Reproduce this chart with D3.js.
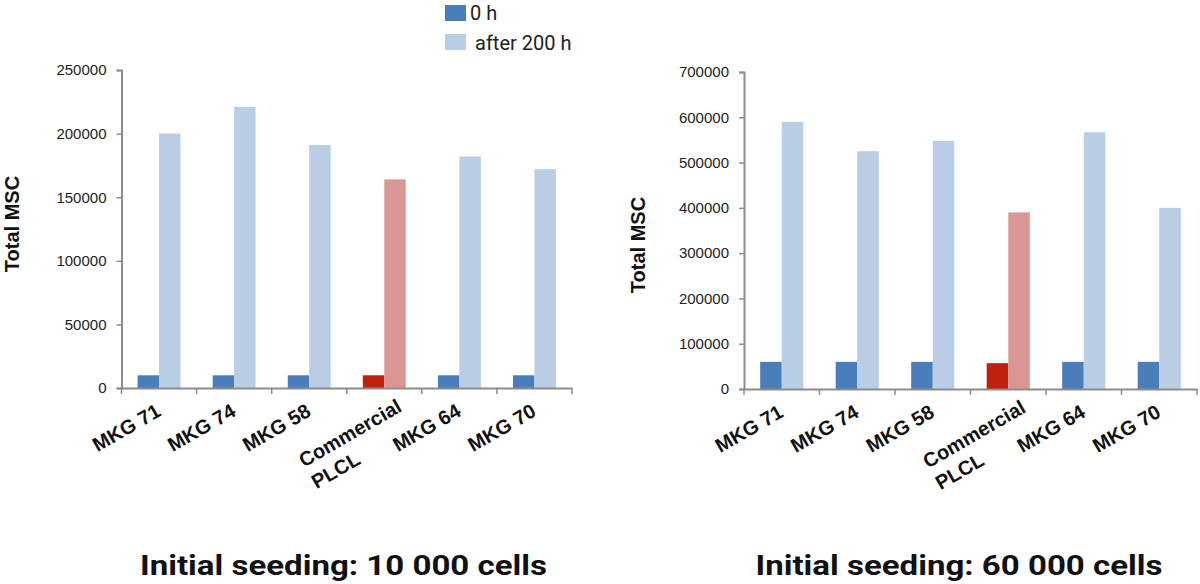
<!DOCTYPE html>
<html><head><meta charset="utf-8">
<script src="https://cdn.jsdelivr.net/npm/d3@7"></script>
<style>
html,body{margin:0;padding:0;background:#fff;}
svg{display:block;font-family:"Liberation Sans",Arial,sans-serif;}
</style></head>
<body>
<svg id="chart" width="1200" height="584"></svg>
<script>
const categories = ["MKG 71", "MKG 74", "MKG 58", "Commercial\nPLCL", "MKG 64", "MKG 70"];
const seriesNames = ["0 h", "after 200 h"];
const left0h = [10000, 10000, 10000, 10000, 10000, 10000];
const left200h = [200000, 221000, 191000, 164000, 182000, 172000];
const right0h = [60000, 60000, 60000, 57000, 60000, 60000];
const right200h = [590000, 525000, 548000, 390000, 567000, 400000];
const leftTicks = [0, 50000, 100000, 150000, 200000, 250000];
const rightTicks = [0, 100000, 200000, 300000, 400000, 500000, 600000, 700000];
const titles = ["Initial seeding: 10 000 cells", "Initial seeding: 60 000 cells"];
const yTitle = "Total MSC";
const highlightCategory = "Commercial\nPLCL";

const colors = {"0 h": "#4a7ebb", "after 200 h": "#b9cde5"};
const hiColors = {"0 h": "#c0200e", "after 200 h": "#d99694"};
const axisColor = "#8c8c8c";

const svg = d3.select("#chart");

function panel(cfg) {
  const g = svg.append("g");
  const x = d3.scaleBand().domain(categories).range([cfg.x0, cfg.x1]).padding(0);
  const bw = x.bandwidth();
  const b = bw / 3.5;
  const x1 = d3.scaleBand().domain(seriesNames).range([0.75 * b, bw - 0.75 * b]).padding(0);
  const y = d3.scaleLinear().domain([0, cfg.max]).range([cfg.y0, cfg.ytop]);

  const data = categories.map((c, i) => ({cat: c, vals: [cfg.v0[i], cfg.v1[i]]}));
  const groups = g.selectAll("g.grp").data(data).join("g").attr("transform", d => `translate(${x(d.cat)},0)`);
  groups.selectAll("rect").data(d => seriesNames.map((s, j) => ({s, v: d.vals[j], cat: d.cat})))
    .join("rect")
    .attr("x", d => x1(d.s))
    .attr("width", x1.bandwidth())
    .attr("y", d => y(d.v))
    .attr("height", d => y(0) - y(d.v))
    .attr("fill", d => d.cat === highlightCategory ? hiColors[d.s] : colors[d.s]);

  // y axis
  const ya = d3.axisLeft(y).tickValues(cfg.ticks).tickSize(5).tickPadding(10).tickFormat(d3.format("d"));
  const yg = g.append("g").attr("transform", `translate(${cfg.x0},0)`).call(ya);
  yg.select(".domain").attr("stroke", axisColor).attr("stroke-width", 2);
  yg.selectAll(".tick line").attr("stroke", axisColor).attr("stroke-width", 1.5);
  yg.selectAll(".tick text").attr("font-size", 15).attr("fill", "#222").attr("font-family", "Liberation Sans, Arial, sans-serif");

  // x axis
  const xa = d3.axisBottom(x).tickSize(0).tickFormat("");
  const xg = g.append("g").attr("transform", `translate(0,${cfg.y0})`).call(xa);
  xg.select(".domain").attr("stroke", axisColor).attr("stroke-width", 2);
  xg.selectAll(".tick").remove();
  const bounds = categories.map(c => x(c)).concat([cfg.x1]);
  xg.selectAll("line.bt").data(bounds).join("line").attr("class", "bt")
    .attr("x1", d => d).attr("x2", d => d).attr("y1", 0).attr("y2", 6)
    .attr("stroke", axisColor).attr("stroke-width", 1.5);

  // category labels
  categories.forEach(c => {
    const lines = c.split("\n");
    const cx = x(c) + bw / 2;
    const lg = g.append("g").attr("transform", `translate(${cx + 3},${cfg.y0 + 27}) rotate(-30)`);
    if (lines.length === 1) {
      lg.append("text").attr("text-anchor", "end").attr("font-size", 20).attr("font-weight", "bold").attr("fill", "#111").text(lines[0]);
    } else {
      const t1 = lg.append("text").attr("font-size", 20).attr("font-weight", "bold").attr("fill", "#111").text(lines[0]);
      const w1 = t1.node().getComputedTextLength();
      t1.attr("x", 16 - w1).attr("y", 4);
      lg.append("text").attr("font-size", 20).attr("font-weight", "bold").attr("fill", "#111")
        .attr("x", 16 - w1).attr("y", 29).text(lines[1]);
    }
  });

  // y title
  g.append("text").attr("transform", `translate(${cfg.ytx},${cfg.yty}) rotate(-90)`)
    .attr("text-anchor", "middle").attr("font-size", 20).attr("font-weight", "bold").attr("fill", "#111").text(yTitle);

  // panel title
  g.append("text").attr("x", cfg.tx).attr("y", 575).attr("text-anchor", "middle")
    .attr("font-size", 28).attr("font-weight", "bold").attr("fill", "#111")
    .attr("font-family", "Roboto, Liberation Sans, Arial, sans-serif")
    .attr("textLength", 407).attr("lengthAdjust", "spacingAndGlyphs")
    .text(cfg.title);
}

panel({x0: 121.5, x1: 572, y0: 388, ytop: 70, max: 250000, ticks: leftTicks, v0: left0h, v1: left200h,
  ytx: 19, yty: 224, tx: 343.5, title: titles[0]});
panel({x0: 744, x1: 1197, y0: 389, ytop: 72, max: 700000, ticks: rightTicks, v0: right0h, v1: right200h,
  ytx: 645, yty: 245, tx: 959, title: titles[1]});

// legend
const leg = svg.append("g");
seriesNames.forEach((s, i) => {
  leg.append("rect").attr("x", 445).attr("y", 5 + i * 29).attr("width", 21).attr("height", 16).attr("fill", colors[s]);
  leg.append("text").attr("x", 470 + i * 5).attr("y", 20 + i * 30).attr("font-size", 20).attr("fill", "#222")
    .attr("font-family", "Roboto, Liberation Sans, Arial, sans-serif").text(s);
});
</script>
</body></html>
